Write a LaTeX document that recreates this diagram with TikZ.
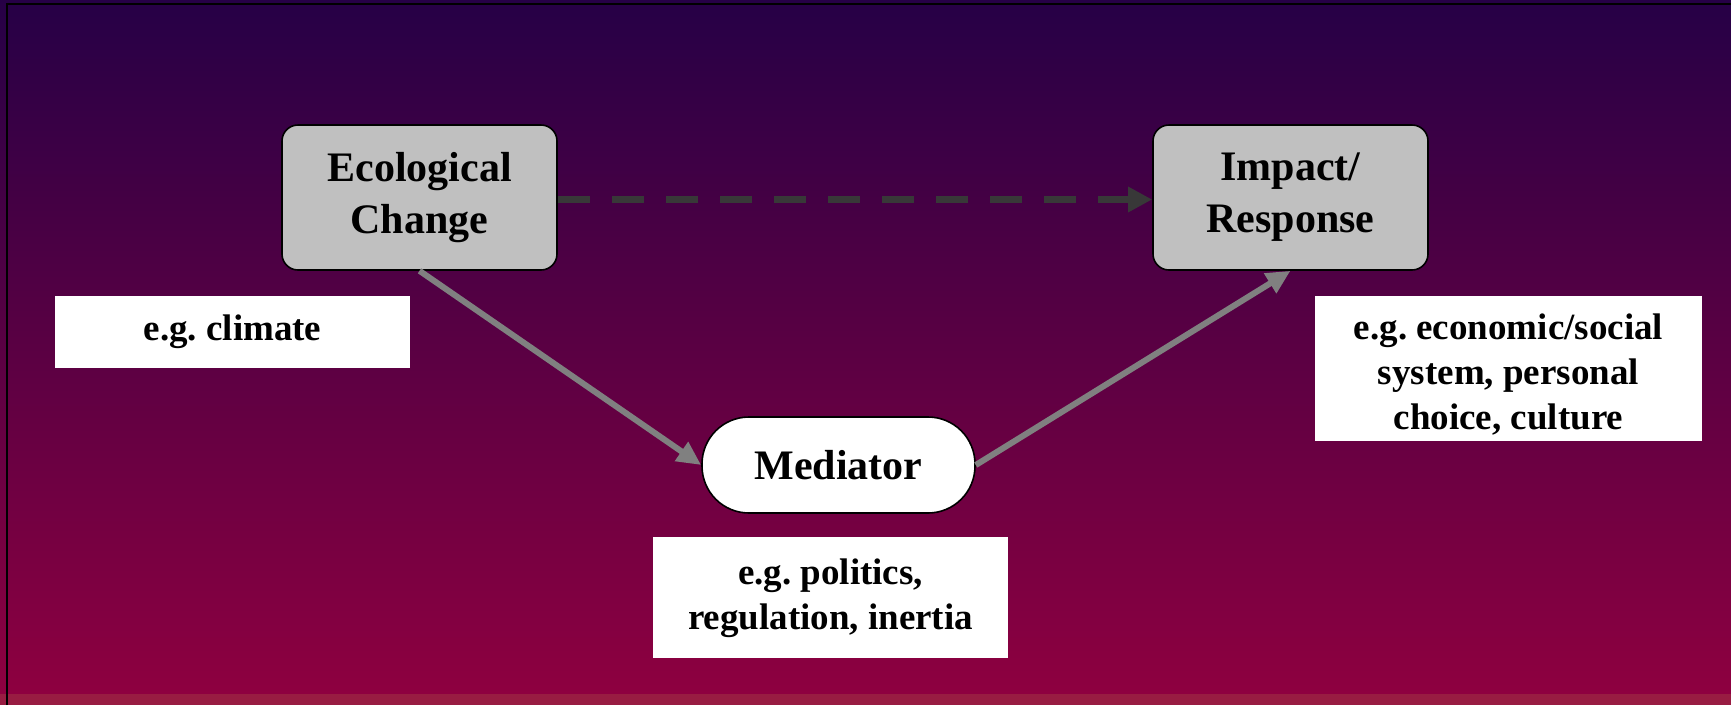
\documentclass[tikz,border=0pt]{standalone}
\usepackage{fontspec}
\setmainfont{Liberation Serif}
\usetikzlibrary{arrows.meta}
\frenchspacing
\definecolor{bgtop}{RGB}{38,0,70}
\definecolor{bgmid}{RGB}{75,0,66}
\definecolor{bgbot}{RGB}{142,0,64}
\definecolor{band}{RGB}{152,28,66}
\definecolor{boxgray}{RGB}{192,192,192}
\definecolor{darkarrow}{RGB}{56,56,56}
\definecolor{grayarrow}{RGB}{128,128,128}
\begin{document}
\begin{tikzpicture}[x=1pt,y=-1pt,
  mainbox/.style={draw=black, line width=1.6pt, fill=boxgray, rounded corners=16pt,
    minimum width=275pt, minimum height=145pt, align=center, inner sep=0pt,
    font=\fontsize{42}{52}\selectfont\bfseries},
  medbox/.style={draw=black, line width=1.6pt, fill=white, rounded corners=47pt,
    minimum width=273pt, minimum height=96pt, align=center, inner sep=0pt,
    font=\fontsize{42}{52}\selectfont\bfseries},
  notebox/.style={fill=white, inner sep=0pt},
  notetext/.style={align=center, inner sep=0pt,
    font=\fontsize{37}{45}\selectfont\bfseries},
  darrow/.style={draw=darkarrow, line width=7pt, dash pattern=on 32pt off 22pt,
    -{Triangle[length=24pt,width=24pt]}},
  garrow/.style={draw=grayarrow, line width=6pt,
    -{Triangle[length=24pt,width=22pt]}}
]
\useasboundingbox (0,0) rectangle (1731,705);
\shade[top color=bgtop, middle color=bgmid, bottom color=bgbot] (0,0) rectangle (1731,694);
\fill[band] (0,694) rectangle (1731,705);
\draw[black, line width=2pt] (7,705) -- (7,4.3) -- (1731,4.3);

\node[mainbox] (eco) at (419.5,197.5) {Ecological\\Change};
\node[mainbox] (imp) at (1290.5,197.5) {Impact/\\Response};
\node[medbox] (med) at (838.5,465) {Mediator};

\node[notebox, minimum width=355pt, minimum height=72pt] (n1) at (232.5,332) {};
\node[notetext] (n1t) at (232.5,332) {e.g. climate};
\node[notebox, minimum width=387pt, minimum height=145pt] (n2) at (1508.5,368) {};
\node[notetext] (n2t) at (1508.5,375) {e.g. economic/social\\system, personal\\choice, culture};
\node[notebox, minimum width=355pt, minimum height=121pt] (n3) at (830.5,597.5) {};
\node[notetext] (n3t) at (830.5,598) {e.g. politics,\\regulation, inertia};

\draw[darrow] ([yshift=-2pt]eco.east) -- ([yshift=-2pt]imp.west);
\draw[garrow] (eco.south) -- (med.west);
\draw[garrow] (med.east) -- (imp.south);
\end{tikzpicture}
\end{document}
